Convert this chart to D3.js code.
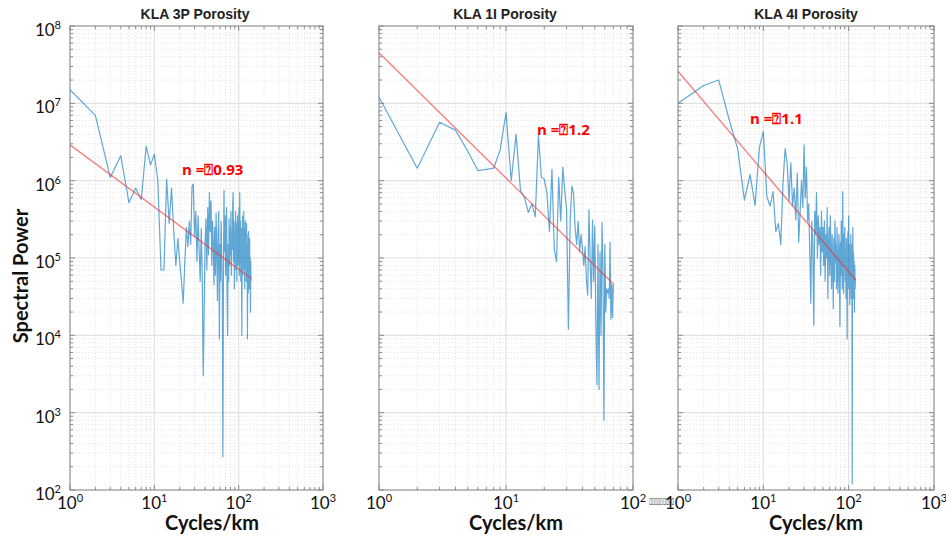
<!DOCTYPE html>
<html><head><meta charset="utf-8">
<script src="https://cdn.jsdelivr.net/npm/d3@7"></script>
<style>body{margin:0;background:#fff}svg{display:block}</style>
</head><body>
<svg id="c" width="946" height="539"></svg>
<script>
// ---------------- data ----------------
const titles = ["KLA 3P Porosity", "KLA 1I Porosity", "KLA 4I Porosity"];
const xDomains = [[1, 1000], [1, 100], [1, 1000]];
const yDomain = [1e2, 1e8];
const xTickExps = [[0, 1, 2, 3], [0, 1, 2], [0, 1, 2, 3]];
const yTickExps = [2, 3, 4, 5, 6, 7, 8];
const slopeLabels = ["n =\u23700.93", "n =\u23701.2", "n =\u23701.1"];

// spectral power, index i -> frequency i+1 cycles/km
const power3P = [
 1.5e7,7e6,1.1e6,2.1e6,5.2e5,8e5,5.7e5,2.8e6,1.6e6,2.2e6,
 1.0e6,7e4,7e4,1.05e6,2.8e5,8e5,2.2e5,8e4,1.8e5,9e4,
 5e4,2.6e4,9e4,2.5e5,1.4e5,3e5,1.5e5,8.5e5,9e5,1.9e5,
 4e5,9e4,3.5e5,1.3e5,5e4,2.4e5,6e4,3e3,2.2e4,1.6e5,
 3.2e5,7e4,4.5e5,1.1e5,7e5,2.2e5,5.5e5,8e4,3e5,1.6e5,
 4.5e4,2.5e5,6e4,3.8e5,1.2e5,2.8e4,2e5,4e5,9e3,1.5e5,
 5e4,3e5,1.1e5,4e4,2.7e2,6e4,7.5e5,1.2e5,3.5e5,6e4,
 2e5,4.5e5,3e4,1e4,1.5e5,5e4,3.2e5,8e4,2.5e5,1.1e5,
 4e5,6e4,2e5,1.3e5,5e5,7e5,9e4,3e5,4e4,2.2e5,
 1.2e5,4e5,7e4,2.8e5,5e4,1.6e5,3.5e5,8e4,2e5,1.1e5,
 4.5e5,6e4,7e5,1.5e5,3e5,5e4,2.4e5,9e4,1e4,1.3e5,
 3.5e5,6e4,2e5,1e5,4e5,7e4,2.5e5,4e4,1.5e5,3e5,
 8e4,1.8e5,5e4,2.8e5,1e5,2e5,9e3,6e4,1.5e5,3.5e4,
 2.2e5,7e4,1.2e5,4e4,1.8e5,6e4,1e5,2e4,9e4,5e4
];
const power1I = [
 1.2e7,1.45e6,5.7e6,4.5e6,2.4e6,1.35e6,1.4e6,1.45e6,2.5e6,7.6e6,
 1.0e6,4e6,7.5e5,6e5,3.9e5,5e5,3.4e5,3.9e6,1.1e6,1.05e6,
 6.9e5,2.2e5,1.4e6,1.3e5,9e4,1.1e6,3e5,1.5e6,7.5e5,4.2e5,
 1.2e4,3e5,8.5e5,7e5,2.5e5,1.5e5,3e5,1.2e5,2e5,1.3e5,
 8e4,1.4e5,5e4,3.3e4,4.2e5,9e4,3e4,3.1e5,5e4,2.6e5,
 1.6e4,2.3e3,1.5e5,2e3,1.2e5,1e4,2.9e5,7e4,8e2,1.5e5,
 2e4,4e4,3.5e4,4e4,3e4,1.6e5,1.6e4,4.5e4,1.7e4,4.6e4
];
const power4I = [
 1e7,1.7e7,2e7,6e6,2.6e6,5.6e5,1.2e6,4.8e5,2.7e6,4.3e6,
 6.2e5,4.7e5,7.2e5,2.2e5,2.8e5,1.5e5,9.3e5,2.6e6,1.7e6,5.5e5,
 1.7e6,4.7e5,8e5,3.1e5,1.25e6,1.6e5,4e5,1e6,4.5e5,2.9e6,
 6e5,1.5e6,3e5,5e5,1.2e5,2.6e4,3e5,1.5e5,1.35e4,4e5,
 2e5,7e5,1e5,3.5e5,1.5e5,2.5e5,6e4,4e5,1.2e5,2.5e5,
 8e4,3e5,5e4,2e5,1e5,4.5e5,3e4,1.5e5,2.5e5,6e4,
 3.5e5,1.1e5,4e4,2e5,8e4,2.2e4,1.8e5,5e4,3e5,9e4,
 1.5e5,4e4,2.5e5,7e4,3.5e4,1.2e5,2e5,5e4,1.3e4,1.6e5,
 6e4,3e5,1e5,4e4,7.2e5,1.5e5,3.5e4,2e5,8e4,2.5e5,
 5e4,1.2e5,3e4,1.8e5,6e4,9e3,1e5,2.2e5,4e4,3.5e5,
 7e4,1.5e5,2.5e4,1.1e5,5e4,2e5,3e4,8e4,1.5e5,1.2e2,
 6e4,2.5e5,3e4,1.2e5,4.5e4,9e4,2e4,8e4,4e4,5.5e4
];
const spectra = [power3P, power1I, power4I];

// power-law fit line end points [frequency, power]
const fits = [
 [[1, 2.9e6], [142, 5.4e4]],
 [[1, 4.5e7], [70, 4.6e4]],
 [[1, 2.6e7], [121, 5.2e4]]
];

// ---------------- layout ----------------
const panels = [
 {x0: 70,  x1: 323, titleX: 195, labelX: 212, noteX: 182, noteY: 175},
 {x0: 379, x1: 633, titleX: 505, labelX: 516, noteX: 537, noteY: 135},
 {x0: 678, x1: 934, titleX: 806, labelX: 816, noteX: 750, noteY: 124}
];
const yTop = 26, yBot = 490;

const svg = d3.select("#c");
const y = d3.scaleLog().domain(yDomain).range([yBot, yTop]);

function minorVals(dom) {
  const out = [];
  const lo = Math.round(Math.log10(dom[0])), hi = Math.round(Math.log10(dom[1]));
  for (let e = lo; e < hi; e++) for (let k = 2; k <= 9; k++) out.push(k * Math.pow(10, e));
  return out;
}
const yMinor = minorVals(yDomain);
const yMajor = yTickExps.map(e => Math.pow(10, e));

panels.forEach((p, i) => {
  const x = d3.scaleLog().domain(xDomains[i]).range([p.x0, p.x1]);
  const g = svg.append("g");
  const xMinor = minorVals(xDomains[i]);
  const xMajor = xTickExps[i].map(e => Math.pow(10, e));

  // minor grid
  g.selectAll(".gxm").data(xMinor).join("line")
    .attr("x1", d => x(d)).attr("x2", d => x(d)).attr("y1", yTop).attr("y2", yBot)
    .attr("stroke", "#dedede").attr("stroke-width", 0.8).attr("stroke-dasharray", "1.2,1.8");
  g.selectAll(".gym").data(yMinor).join("line")
    .attr("x1", p.x0).attr("x2", p.x1).attr("y1", d => y(d)).attr("y2", d => y(d))
    .attr("stroke", "#dedede").attr("stroke-width", 0.8).attr("stroke-dasharray", "1.2,1.8");
  // major grid
  g.selectAll(".gxM").data(xMajor).join("line")
    .attr("x1", d => x(d)).attr("x2", d => x(d)).attr("y1", yTop).attr("y2", yBot)
    .attr("stroke", "#e2e2e2").attr("stroke-width", 1.2);
  g.selectAll(".gyM").data(yMajor).join("line")
    .attr("x1", p.x0).attr("x2", p.x1).attr("y1", d => y(d)).attr("y2", d => y(d))
    .attr("stroke", "#e2e2e2").attr("stroke-width", 1.2);

  // spectrum
  const pts = spectra[i].map((v, k) => [k + 1, v]);
  g.append("path").datum(pts)
    .attr("d", d3.line().x(d => x(d[0])).y(d => y(d[1])))
    .attr("fill", "none").attr("stroke", "#0072bd").attr("stroke-opacity", 0.62)
    .attr("stroke-width", 1.2).attr("stroke-linejoin", "round");

  // fit
  g.append("path").datum(fits[i])
    .attr("d", d3.line().x(d => x(d[0])).y(d => y(d[1])))
    .attr("fill", "none").attr("stroke", "#f03030").attr("stroke-opacity", 0.6)
    .attr("stroke-width", 1.4);

  // box
  g.append("rect").attr("x", p.x0).attr("y", yTop).attr("width", p.x1 - p.x0).attr("height", yBot - yTop)
    .attr("fill", "none").attr("stroke", "#8a8a8a").attr("stroke-width", 1);
  // ticks inside on all sides
  const tk = [];
  xMinor.forEach(d => tk.push([x(d), yBot, x(d), yBot - 3], [x(d), yTop, x(d), yTop + 3]));
  xMajor.forEach(d => tk.push([x(d), yBot, x(d), yBot - 5], [x(d), yTop, x(d), yTop + 5]));
  yMinor.forEach(d => tk.push([p.x0, y(d), p.x0 + 3, y(d)], [p.x1, y(d), p.x1 - 3, y(d)]));
  yMajor.forEach(d => tk.push([p.x0, y(d), p.x0 + 5, y(d)], [p.x1, y(d), p.x1 - 5, y(d)]));
  g.selectAll(".tk").data(tk).join("line")
    .attr("x1", d => d[0]).attr("y1", d => d[1]).attr("x2", d => d[2]).attr("y2", d => d[3])
    .attr("stroke", "#8a8a8a").attr("stroke-width", 1);

  // x tick labels
  xTickExps[i].forEach(e => {
    const t = g.append("text").attr("x", x(Math.pow(10, e))).attr("y", 509)
      .attr("text-anchor", "middle").attr("font-family", "Lato, 'Open Sans', sans-serif")
      .attr("font-size", 17).attr("fill", "#111");
    t.append("tspan").text("10");
    t.append("tspan").attr("dy", -7).attr("font-size", 11).text(String(e));
  });

  // title
  g.append("text").attr("x", p.titleX).attr("y", 19).attr("text-anchor", "middle")
    .attr("font-family", "'Liberation Sans', Arial, sans-serif").attr("font-weight", "bold")
    .attr("font-size", 14).attr("fill", "#222").text(titles[i]);
  // x label
  g.append("text").attr("x", p.labelX).attr("y", 530).attr("text-anchor", "middle")
    .attr("font-family", "Lato, 'Open Sans', sans-serif").attr("font-weight", "bold")
    .attr("font-size", 20).attr("fill", "#111").text("Cycles/km");
  // slope annotation
  g.append("text").attr("x", p.noteX).attr("y", p.noteY)
    .attr("font-family", "'Open Sans', 'DejaVu Sans', sans-serif").attr("font-weight", "bold")
    .attr("font-size", 15).attr("fill", "#ff0000").text(slopeLabels[i]);
});

// y tick labels (first panel only)
yTickExps.forEach(e => {
  const t = svg.append("text").attr("x", 61).attr("y", y(Math.pow(10, e)) + 10)
    .attr("text-anchor", "end").attr("font-family", "Lato, 'Open Sans', sans-serif")
    .attr("font-size", 17).attr("fill", "#111");
  t.append("tspan").text("10");
  t.append("tspan").attr("dy", -7).attr("font-size", 11).text(String(e));
});

// y label
svg.append("text").attr("transform", "translate(28,276) rotate(-90)").attr("text-anchor", "middle")
  .attr("font-family", "Lato, 'Open Sans', sans-serif").attr("font-weight", "bold")
  .attr("font-size", 20).attr("fill", "#111").text("Spectral Power");

// stray glyph boxes between panel 2 and 3 tick labels
svg.append("text").attr("x", 649).attr("y", 504).attr("font-family", "'DejaVu Sans', sans-serif")
  .attr("font-size", 9).attr("textLength", 25).attr("lengthAdjust", "spacingAndGlyphs")
  .attr("fill", "#222").text("\u25AF\u25AF\u25AF\u25AF\u25AF\u25AF\u25AF\u25AF\u25AF");
</script>
</body></html>
